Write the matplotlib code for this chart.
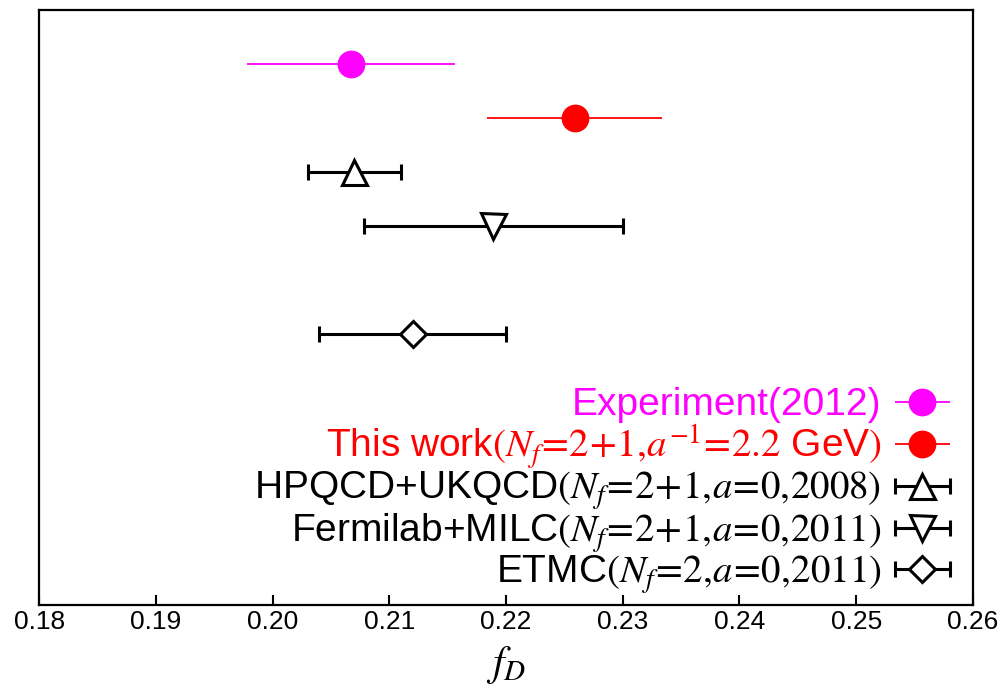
import numpy as np
import matplotlib
matplotlib.use("Agg")
import matplotlib.pyplot as plt
from matplotlib.container import ErrorbarContainer
from matplotlib.legend_handler import HandlerErrorbar

plt.rcParams['font.family'] = ['Liberation Sans', 'DejaVu Sans']
plt.rcParams['mathtext.fontset'] = 'stix'

# f_D values and errors (GeV)
labels = [
    "Experiment(2012)",
    r"This work$(N_f\!=\!2\!+\!1,\!a^{-1}\!=\!2.2$ GeV$)$",
    r"HPQCD+UKQCD$(N_f\!=\!2\!+\!1,\!a\!=\!0,\!2008)$",
    r"Fermilab+MILC$(N_f\!=\!2\!+\!1,\!a\!=\!0,\!2011)$",
    r"ETMC$(N_f\!=\!2,\!a\!=\!0,\!2011)$",
]
fD = [0.2067, 0.2259, 0.2070, 0.2189, 0.2120]
fD_err = [0.0089, 0.0075, 0.0040, 0.0111, 0.0080]
ypos = [10, 9, 8, 7, 5]
colors = ['#ff00ff', '#ff0000', 'black', 'black', 'black']
markers = ['o', 'o', '^', 'v', 'D']

fig = plt.figure(figsize=(10.02, 6.92), dpi=100)
ax = fig.add_axes([0.039, 0.126, 0.932, 0.860])

for i in range(len(fD)):
    filled = markers[i] == 'o'
    lw = 1.3 if filled else 2.2
    ms = 20 if filled else (13 if markers[i] == 'D' else 18)
    ax.errorbar(fD[i], ypos[i], xerr=fD_err[i], fmt=markers[i],
                color=colors[i], ecolor=colors[i], elinewidth=lw,
                capsize=6, capthick=lw, markersize=ms,
                markerfacecolor=colors[i] if filled else 'white',
                markeredgecolor=colors[i], markeredgewidth=0 if filled else 2.2,
                label=labels[i])

ax.set_xlim(0.18, 0.26)
ax.set_ylim(0, 11)
ticks = np.arange(0.18, 0.2601, 0.01)
ax.set_xticks(ticks)
ax.set_xticklabels(["%.2f" % v for v in ticks], fontsize=19)
ax.set_yticks([])
ax.tick_params(axis='x', direction='in', length=7, width=1.5, pad=4)
for s in ax.spines.values():
    s.set_linewidth(1.6)

ax.set_xlabel(r"$f_D$", fontsize=30, labelpad=7)

ax.legend(loc='lower right', bbox_to_anchor=(0.977, 0.0146),
          markerfirst=False, frameon=False, fontsize=28,
          labelcolor=colors, handlelength=1.5, handletextpad=0.3,
          labelspacing=-0.03, borderpad=0.0, borderaxespad=0.0,
          handler_map={ErrorbarContainer: HandlerErrorbar(xerr_size=0.7)})

plt.savefig("out.png", dpi=100)
